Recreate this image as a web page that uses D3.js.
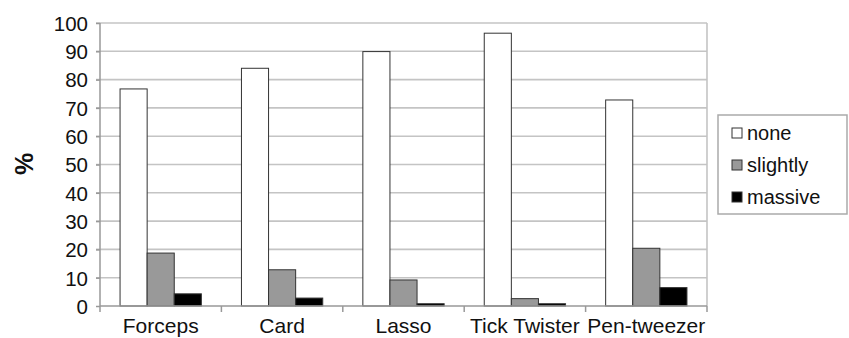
<!DOCTYPE html>
<html><head><meta charset="utf-8">
<script src="https://cdn.jsdelivr.net/npm/d3@7"></script>
<style>body{margin:0;background:#fff}svg{display:block}text{font-family:"Liberation Sans",Arial,sans-serif}</style>
</head><body><svg id="c" width="849" height="338"></svg>
<script>
const categories = ["Forceps","Card","Lasso","Tick Twister","Pen-tweezer"];
const seriesNames = ["none","slightly","massive"];
const noneValues = [76.7, 84.0, 89.9, 96.4, 72.8];
const slightlyValues = [18.7, 12.8, 9.2, 2.6, 20.4];
const massiveValues = [4.3, 2.8, 0.8, 0.8, 6.5];
const yTicks = [0,10,20,30,40,50,60,70,80,90,100];
const colors = ["#ffffff","#999999","#000000"];

const series = [noneValues, slightlyValues, massiveValues];
const svg = d3.select("#c");
const L=100, R=707, T=23, B=306;
const x = d3.scaleBand().domain(categories).range([L,R]);
const xi = d3.scaleBand().domain(seriesNames).range([0,x.bandwidth()]).paddingOuter(0.74).paddingInner(0);
const y = d3.scaleLinear().domain([0,100]).range([B,T]);

// gridlines
svg.append("g").selectAll("line").data(yTicks.filter(d=>d>0)).join("line")
  .attr("x1",L-4).attr("x2",R).attr("y1",d=>y(d)).attr("y2",d=>y(d))
  .attr("stroke","#c4c4c4").attr("stroke-width",1.6);
// right border
svg.append("line").attr("x1",R).attr("x2",R).attr("y1",T).attr("y2",B).attr("stroke","#c4c4c4").attr("stroke-width",1.6);

// bars
const g = svg.append("g");
categories.forEach((c,ci)=>{
  seriesNames.forEach((s,si)=>{
    const v = series[si][ci];
    g.append("rect").attr("x",x(c)+xi(s)).attr("width",xi.bandwidth())
      .attr("y",y(v)).attr("height",B-y(v))
      .attr("fill",colors[si]).attr("stroke","#333").attr("stroke-width",1);
  });
});

// y axis
const ya = svg.append("g").attr("transform",`translate(${L},0)`)
  .call(d3.axisLeft(y).tickValues(yTicks).tickSize(4).tickPadding(8));
ya.selectAll("text").attr("font-size",20.5).attr("fill","#111").attr("font-family","Liberation Sans, Arial, sans-serif").attr("dy","0.36em");
ya.selectAll("line").attr("stroke","#999").attr("stroke-width",1.5);
ya.select(".domain").attr("stroke","#999").attr("stroke-width",1.5).attr("d",`M0,${T}V${B}`);

// x axis
const xa = svg.append("g").attr("transform",`translate(0,${B})`)
  .call(d3.axisBottom(x).tickSize(0).tickPadding(12));
xa.selectAll("text").attr("font-size",21).attr("fill","#111").attr("font-family","Liberation Sans, Arial, sans-serif");
xa.select(".domain").attr("stroke","#999").attr("stroke-width",1.5).attr("d",`M${L},0H${R}`);
svg.append("g").selectAll("line").data(d3.range(categories.length+1)).join("line")
  .attr("x1",i=>L+i*x.step()).attr("x2",i=>L+i*x.step()).attr("y1",B).attr("y2",B+6)
  .attr("stroke","#999").attr("stroke-width",1.5);

// y label
svg.append("text").attr("transform","translate(33,164) rotate(-90)").attr("text-anchor","middle")
  .attr("font-size",25).attr("font-weight","bold").attr("fill","#111").text("%");

// legend
const lg = svg.append("g");
lg.append("rect").attr("x",718).attr("y",115).attr("width",129).attr("height",99)
  .attr("fill","#fff").attr("stroke","#aaa").attr("stroke-width",1.5);
seriesNames.forEach((s,i)=>{
  const cy = 133 + i*32;
  lg.append("rect").attr("x",732).attr("y",cy-5).attr("width",10).attr("height",10)
    .attr("fill",colors[i]).attr("stroke","#333").attr("stroke-width",1);
  lg.append("text").attr("x",747).attr("y",cy).attr("dy","0.36em").attr("font-size",20).attr("fill","#111").text(s);
});
</script></body></html>
